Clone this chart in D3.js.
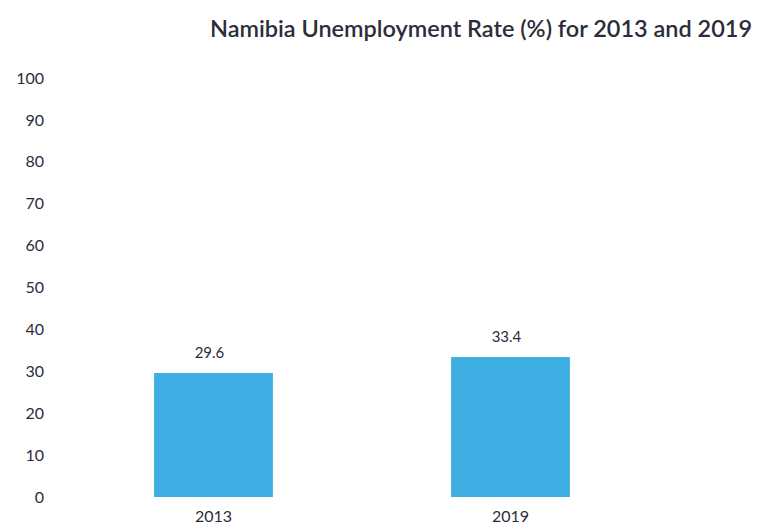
<!DOCTYPE html>
<html>
<head>
<meta charset="utf-8">
<script src="https://cdn.jsdelivr.net/npm/d3@7"></script>
<style>
  html, body { margin: 0; padding: 0; background: #ffffff; }
  svg { display: block; }
</style>
</head>
<body>
<svg id="chart" width="764" height="529"></svg>
<script>
const categories = ["2013", "2019"];
const values = [29.6, 33.4];
const yTicks = [0, 10, 20, 30, 40, 50, 60, 70, 80, 90, 100];
const titleText = "Namibia Unemployment Rate (%) for 2013 and 2019";

const svg = d3.select("#chart");
const font = "Lato, 'Open Sans', sans-serif";
const textColor = "#2b2d3a";
const barColor = "#3eaee2";

const x = d3.scaleBand().domain(categories).range([65, 659]).paddingInner(0.6).paddingOuter(0.3);
const y = d3.scaleLinear().domain([0, 100]).range([497, 78]);

// title
svg.append("text")
  .attr("x", 481).attr("y", 37)
  .attr("text-anchor", "middle")
  .attr("font-family", font)
  .attr("font-size", 23.5)
  .attr("font-weight", 600)
  .attr("fill", textColor)
  .attr("textLength", 542)
  .attr("lengthAdjust", "spacingAndGlyphs")
  .text(titleText);

// y axis (labels only)
const yAxis = d3.axisLeft(y).tickValues(yTicks).tickSize(0).tickPadding(0);
const gy = svg.append("g").attr("transform", "translate(44,0)").call(yAxis);
gy.select(".domain").remove();
gy.selectAll("text")
  .attr("font-family", font)
  .attr("font-size", 16)
  .attr("fill", textColor);

// bars
svg.append("g").selectAll("rect")
  .data(categories)
  .join("rect")
  .attr("x", d => x(d))
  .attr("width", x.bandwidth())
  .attr("y", (d, i) => y(values[i]))
  .attr("height", (d, i) => y(0) - y(values[i]))
  .attr("fill", barColor);

// value labels
svg.append("g").selectAll("text")
  .data(categories)
  .join("text")
  .attr("x", d => x(d) + x.bandwidth() / 2 - 4)
  .attr("y", (d, i) => y(values[i]) - 15)
  .attr("text-anchor", "middle")
  .attr("font-family", font)
  .attr("font-size", 15)
  .attr("fill", textColor)
  .text((d, i) => values[i]);

// x axis (labels only)
const xAxis = d3.axisBottom(x).tickSize(0).tickPadding(0);
const gx = svg.append("g").attr("transform", "translate(0,516)").call(xAxis);
gx.select(".domain").remove();
gx.selectAll("text")
  .attr("font-family", font)
  .attr("font-size", 16)
  .attr("fill", textColor)
  .attr("dy", "0.35em");
</script>
</body>
</html>
